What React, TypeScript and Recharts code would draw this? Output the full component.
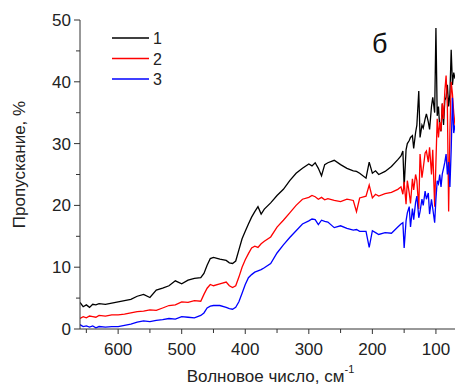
import React from 'react'
import { LineChart, Line, XAxis, YAxis } from 'recharts'

// wavenumber grid, cm-1 (high to low, as on the plot)
const wavenumbers = [
  660, 655, 650, 645, 640, 635, 630, 620, 610, 600,
  590, 580, 570, 560, 550, 540, 530, 520, 510, 500,
  490, 480, 470, 465, 460, 455, 450, 440, 430, 425,
  420, 415, 410, 405, 400, 395, 390, 385, 380, 375,
  370, 360, 350, 340, 330, 320, 310, 300, 295, 290,
  285, 280, 275, 270, 260, 250, 240, 230, 225, 220,
  210, 205, 200, 195, 190, 180, 170, 160, 155, 152,
  150, 147, 145, 142, 140, 137, 135, 132, 130, 127,
  125, 122, 120, 117, 115, 112, 110, 107, 105, 102,
  100, 98, 96, 94, 92, 90, 88, 86, 84, 82,
  80, 78, 76, 74, 72, 70,
]

const sample1 = [
  4.3, 3.6, 3.9, 3.5, 4.0, 3.9, 4.1, 4.0, 4.2, 4.4,
  4.6, 4.8, 5.3, 5.6, 5.1, 6.3, 6.6, 7.0, 7.8, 7.3,
  7.9, 8.2, 8.3, 9.0, 10.3, 11.4, 11.6, 11.3, 11.1, 10.7,
  10.6, 11.0, 12.8, 14.6, 15.8, 17.0, 18.1, 19.0, 19.8, 18.6,
  19.4, 20.4, 21.6, 22.6, 24.0, 25.2, 26.0, 26.7, 26.4, 26.9,
  26.0, 24.8, 26.6, 26.9, 27.3, 26.6, 26.0, 25.6, 25.5, 25.2,
  24.4, 27.0, 25.2, 25.6, 25.0, 25.5, 26.3, 27.4, 28.0, 28.8,
  23.0, 29.0, 30.0, 30.5, 31.0, 31.3, 29.2, 31.8, 33.0, 38.5,
  31.0, 33.0, 32.5, 34.0, 34.8, 33.5, 32.3, 36.0, 37.5, 35.0,
  48.7, 34.5, 36.0, 32.5, 32.0, 36.5, 33.0, 37.0, 37.5, 39.5,
  36.0, 38.0, 45.2, 39.5, 41.5, 40.5,
]

const sample2 = [
  1.7, 2.0, 1.8, 2.1, 2.0, 1.9, 2.2, 2.1, 2.3, 2.3,
  2.4, 2.6, 2.8, 2.9, 3.1, 3.0, 3.4, 3.8, 3.9, 4.4,
  4.3, 4.6, 4.5, 5.6, 6.6, 7.2, 7.0, 7.3, 7.6, 7.0,
  6.7, 7.0, 8.4, 10.0, 11.2, 12.2, 13.1, 13.4, 13.2, 13.8,
  14.2, 14.9, 16.5, 17.6, 18.8, 20.0, 21.0, 21.3, 21.6, 21.4,
  21.0, 21.3, 20.9, 21.1, 20.8, 20.6, 21.0, 20.8, 19.0, 21.2,
  21.5, 23.3, 21.2, 21.8, 21.5, 21.9, 22.1, 22.6, 23.0, 21.8,
  23.8, 20.2, 24.0, 22.0, 20.3, 24.3, 22.5, 25.0, 24.0, 19.4,
  28.3, 24.5, 26.0, 28.5, 28.8, 27.0, 29.4, 25.0, 29.0, 19.8,
  27.0, 34.0, 31.0, 33.5, 32.0, 36.5, 34.0, 38.5, 41.0, 36.0,
  19.0, 32.0, 40.0, 38.0, 35.0, 33.0,
]

const sample3 = [
  0.7, 0.4, 0.5, 0.3, 0.5, 0.2, 0.4, 0.3, 0.4, 0.4,
  0.6, 0.8, 1.1, 1.3, 1.2, 1.4, 1.5, 1.7, 1.6, 2.0,
  1.9, 1.8, 2.2, 2.6, 3.4, 3.7, 3.8, 3.8, 3.5, 3.3,
  3.2, 3.5, 4.4, 5.8, 7.2, 8.3, 8.8, 9.2, 9.4, 9.6,
  9.9, 10.6, 12.3, 13.6, 14.8, 15.9, 17.0, 17.5, 17.8, 17.7,
  16.9, 17.6, 17.4, 17.3, 16.4, 16.7, 16.3, 16.0, 16.1, 15.8,
  15.8, 13.2, 15.9, 15.6, 15.3, 15.6, 15.5, 16.5, 17.0, 17.2,
  13.1, 17.5, 18.8, 19.8, 16.5, 19.5, 17.7, 20.5, 21.5, 18.0,
  19.0, 21.0, 20.0, 22.3, 21.0, 22.0, 18.6, 21.0, 19.5, 17.2,
  21.0, 24.0, 23.5, 25.0, 23.0, 25.1, 26.0, 27.0, 28.3, 25.0,
  27.0, 23.0, 29.0, 37.4, 31.7, 33.0,
]

const seriesNames = ['1', '2', '3']
const seriesColors = ['#000000', '#ff0000', '#0000ff']
const xTicks = [650, 600, 550, 500, 450, 400, 350, 300, 250, 200, 150, 100]
const yTicks = [0, 5, 10, 15, 20, 25, 30, 35, 40, 45, 50]

const data = wavenumbers.map((w, i) => ({
  w,
  s1: sample1[i],
  s2: sample2[i],
  s3: sample3[i],
}))

const font = 'Liberation Sans, Arial, sans-serif'
const axisColor = '#333'

const XTick = (props: any) => {
  const { x, y, payload } = props
  const major = payload.value % 100 === 0
  return (
    <g>
      <line x1={x} x2={x} y1={y} y2={y + (major ? 5 : 4)} stroke={axisColor} />
      {major && (
        <text x={x} y={y + 26} textAnchor="middle" fontSize={17} fontFamily={font} fill="#222">
          {payload.value}
        </text>
      )}
    </g>
  )
}

const YTick = (props: any) => {
  const { x, y, payload } = props
  const major = payload.value % 10 === 0
  return (
    <g>
      <line x1={x} x2={x - (major ? 6 : 4)} y1={y} y2={y} stroke={axisColor} />
      {major && (
        <text x={x - 9} y={y + 6} textAnchor="end" fontSize={17} fontFamily={font} fill="#222">
          {payload.value}
        </text>
      )}
    </g>
  )
}

const XTitle = (props: any) => {
  const { viewBox } = props
  const cx = viewBox.x + viewBox.width / 2 + 3
  return (
    <text x={cx} y={viewBox.y + 53} textAnchor="middle" fontSize={17} fontFamily={font} fill="#222">
      Волновое число, см
      <tspan fontSize={11} dy={-9}>-1</tspan>
    </text>
  )
}

const YTitle = (props: any) => {
  const { viewBox } = props
  const cy = viewBox.y + viewBox.height / 2 - 10
  return (
    <text
      x={25}
      y={cy}
      transform={`rotate(-90, 25, ${cy})`}
      textAnchor="middle"
      fontSize={17}
      fontFamily={font}
      fill="#222"
    >
      Пропускание, %
    </text>
  )
}

export default function App() {
  return (
    <div style={{ position: 'absolute', left: 0, top: 0, width: 455, height: 387 }}>
      <LineChart width={455} height={387} data={data} margin={{ top: 20, right: 0, bottom: 0, left: 0 }}>
        <XAxis
          dataKey="w"
          type="number"
          domain={[70, 660]}
          reversed
          ticks={xTicks}
          interval={0}
          tickSize={0}
          tickMargin={0}
          tick={<XTick />}
          height={58}
          axisLine={{ stroke: axisColor }}
          allowDataOverflow
          label={<XTitle />}
        />
        <YAxis
          type="number"
          domain={[0, 50]}
          ticks={yTicks}
          interval={0}
          tickSize={0}
          tickMargin={0}
          tick={<YTick />}
          width={80}
          axisLine={{ stroke: axisColor }}
          label={<YTitle />}
        />
        <Line type="linear" dataKey="s1" name="1" stroke={seriesColors[0]} strokeWidth={1.3} dot={false} isAnimationActive={false} />
        <Line type="linear" dataKey="s2" name="2" stroke={seriesColors[1]} strokeWidth={1.3} dot={false} isAnimationActive={false} />
        <Line type="linear" dataKey="s3" name="3" stroke={seriesColors[2]} strokeWidth={1.3} dot={false} isAnimationActive={false} />
      </LineChart>
      <svg width={60} height={66} style={{ position: 'absolute', left: 112, top: 30 }}>
        {seriesNames.map((name, i) => (
          <g key={name}>
            <line x1={0} x2={37} y1={8 + i * 20.5} y2={8 + i * 20.5} stroke={seriesColors[i]} strokeWidth={1.5} />
            <text x={41} y={14 + i * 20.5} fontSize={16} fontFamily={font} fill="#222">
              {name}
            </text>
          </g>
        ))}
      </svg>
      <div
        style={{
          position: 'absolute',
          left: 372,
          top: 31,
          fontSize: 27,
          fontFamily: font,
          color: '#111',
          lineHeight: 1,
        }}
      >
        б
      </div>
    </div>
  )
}
